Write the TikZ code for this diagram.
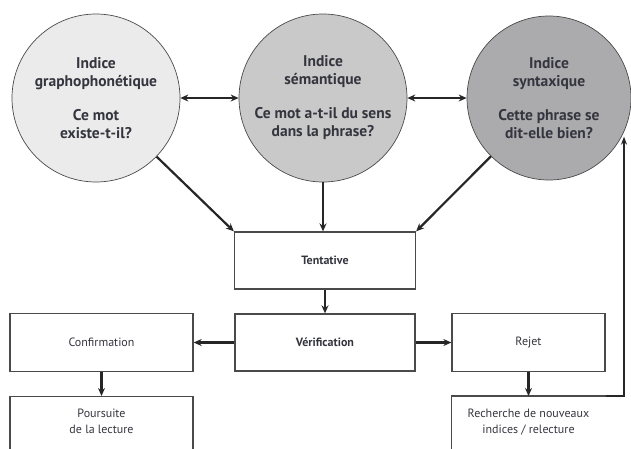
\documentclass[tikz,border=0pt]{standalone}
\usepackage{fontspec}
\setmainfont{PT Sans}
\usetikzlibrary{arrows.meta}
\definecolor{inkc}{HTML}{35353F}
\definecolor{edgec}{HTML}{4A4A4A}
\definecolor{fillA}{HTML}{EBEBEB}
\definecolor{fillB}{HTML}{C9C9C9}
\definecolor{fillC}{HTML}{ABABAD}
\tikzset{
  cue/.style={circle, draw=edgec, line width=0.7pt, minimum size=168pt, inner sep=0pt,
    align=center, text=inkc, font=\bfseries\fontsize{15.5}{18}\selectfont},
  stagebox/.style={rectangle, draw=edgec, line width=1.3pt, inner sep=0pt,
    align=center, text=inkc, font=\fontsize{12}{17}\selectfont},
  flow/.style={line width=2.2pt, draw=black!85, -{Stealth[length=8pt,width=7pt]}},
  both/.style={line width=2.2pt, draw=black!85, {Stealth[length=8pt,width=7pt]}-{Stealth[length=8pt,width=7pt]}},
}
\begin{document}
\begin{tikzpicture}[x=1pt,y=-1pt]
\useasboundingbox (0,0) rectangle (631,448);
\clip (0,0) rectangle (631,448);

% the three cues
\node[cue, fill=fillA] (grapho) at (96,98) {Indice\\graphophonétique\\[16pt]Ce mot\\existe-t-il?};
\node[cue, fill=fillB] (seman) at (323,98) {Indice\\sémantique\\[16pt]Ce mot a-t-il du sens\\dans la phrase?};
\node[cue, fill=fillC, minimum size=164pt] (synt) at (549,98) {Indice\\syntaxique\\[16pt]Cette phrase se\\dit-elle bien?};

% decision boxes
\node[stagebox, minimum width=181pt, minimum height=57pt, font=\bfseries\fontsize{12}{17}\selectfont] (tent) at (325,260.5) {Tentative};
\node[stagebox, minimum width=180pt, minimum height=57pt, font=\bfseries\fontsize{12}{17}\selectfont] (verif) at (325,342.5) {Vérification};
\node[stagebox, minimum width=183pt, minimum height=58pt] (conf) at (101.5,342.5) {Confirmation};
\node[stagebox, minimum width=153pt, minimum height=58pt] (rejet) at (528.5,342.5) {Rejet};
\node[stagebox, anchor=north, minimum width=183pt, inner ysep=12pt, font=\fontsize{12}{16.5}\selectfont] (pours) at (101.5,396)
  {\parbox[t][60pt][t]{170pt}{\centering Poursuite\\de la lecture}};
\node[stagebox, draw=none, anchor=north, minimum width=153pt, inner ysep=12pt, font=\fontsize{12}{16.5}\selectfont] (rech) at (528.5,396)
  {\parbox[t][60pt][t]{150pt}{\centering Recherche de nouveaux\\indices / relecture}};
\draw[edgec, line width=1.3pt] (rech.south west) -- (rech.north west) -- (rech.north east);
\coordinate (back) at (624,396);

% connectors
\draw[both] (grapho) -- (seman);
\draw[both] (seman) -- (synt);
\draw[flow] (grapho) -- (tent.north west);
\draw[flow] (seman.south) -- (seman.south |- tent.north);
\draw[flow] (synt) -- (tent.north east);
\draw[flow] (tent) -- (verif);
\draw[flow] (verif) -- (conf);
\draw[flow] (verif) -- (rejet);
\draw[flow] (conf) -- (conf |- pours.north);
\draw[flow] (rejet) -- (rejet |- rech.north);
\draw[line width=1.6pt, draw=black!85, -{Stealth[length=8pt,width=6pt]}]
  (rech.north east) -- (back) -- (back |- synt.-28);
\end{tikzpicture}
\end{document}
